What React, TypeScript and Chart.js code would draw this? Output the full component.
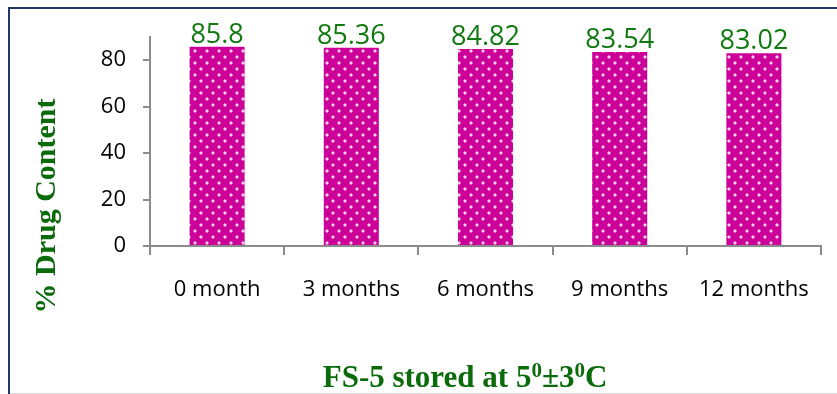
import React, { useEffect, useRef } from "react";
import { Chart, registerables } from "chart.js";

Chart.register(...registerables);

const categories = ["0 month", "3 months", "6 months", "9 months", "12 months"];
const drugContent = [85.8, 85.36, 84.82, 83.54, 83.02];
const yTicks = [0, 20, 40, 60, 80];
const yTitle = "% Drug Content";
const xTitleParts: { text: string; sup?: boolean }[] = [
  { text: "FS-5 stored at 5" },
  { text: "0", sup: true },
  { text: "±3" },
  { text: "0", sup: true },
  { text: "C" },
];

const BAR_COLOR = "#CC0099";
const LABEL_GREEN = "#107A10";
const TITLE_GREEN = "#0B6B0B";
const AXIS_GREY = "#8C8C8C";

function makeDotPattern(ctx: CanvasRenderingContext2D): CanvasPattern | string {
  const tile = document.createElement("canvas");
  tile.width = 12;
  tile.height = 12;
  const t = tile.getContext("2d");
  if (!t) return BAR_COLOR;
  t.fillStyle = BAR_COLOR;
  t.fillRect(0, 0, 12, 12);
  const dot = (cx: number, cy: number) => {
    const g = t.createRadialGradient(cx, cy, 0, cx, cy, 2);
    g.addColorStop(0, "rgba(255,255,255,1)");
    g.addColorStop(0.6, "rgba(255,220,245,0.8)");
    g.addColorStop(1, "rgba(255,255,255,0)");
    t.fillStyle = g;
    t.fillRect(cx - 2, cy - 2, 4, 4);
  };
  dot(3, 3);
  dot(9, 9);
  return ctx.createPattern(tile, "repeat") || BAR_COLOR;
}

const framePlugin = {
  id: "frame",
  beforeDraw(chart: any) {
    const { ctx, width, height } = chart;
    ctx.save();
    ctx.fillStyle = "#ffffff";
    ctx.fillRect(0, 0, width, height);
    ctx.strokeStyle = "#1F3864";
    ctx.lineWidth = 2;
    ctx.beginPath();
    ctx.moveTo(width, 8);
    ctx.lineTo(9, 8);
    ctx.lineTo(9, height);
    ctx.stroke();
    ctx.strokeStyle = "#D9D9D9";
    ctx.lineWidth = 1;
    ctx.beginPath();
    ctx.moveTo(10, height - 0.5);
    ctx.lineTo(width, height - 0.5);
    ctx.stroke();
    ctx.restore();
  },
};

const labelsPlugin = {
  id: "valueLabels",
  afterDatasetsDraw(chart: any) {
    const { ctx } = chart;
    const meta = chart.getDatasetMeta(0);
    ctx.save();
    ctx.fillStyle = LABEL_GREEN;
    ctx.font = "27px 'Open Sans'";
    ctx.textAlign = "center";
    ctx.textBaseline = "alphabetic";
    meta.data.forEach((bar: any, i: number) => {
      ctx.fillText(String(drugContent[i]), bar.x, bar.y - 4);
    });
    ctx.restore();
  },
};

const titlesPlugin = {
  id: "axisTitles",
  afterDraw(chart: any) {
    const { ctx } = chart;
    ctx.save();
    ctx.fillStyle = TITLE_GREEN;
    // vertical axis title
    ctx.font = "bold 30px 'Liberation Serif'";
    ctx.textAlign = "center";
    ctx.textBaseline = "middle";
    ctx.translate(47, 206);
    ctx.rotate(-Math.PI / 2);
    ctx.fillText(yTitle, 0, 0);
    ctx.restore();

    // horizontal axis title with superscripts
    ctx.save();
    ctx.fillStyle = TITLE_GREEN;
    ctx.textAlign = "left";
    ctx.textBaseline = "alphabetic";
    const mainFont = "bold 31px 'Liberation Serif'";
    const supFont = "bold 21px 'Liberation Serif'";
    let total = 0;
    xTitleParts.forEach((p) => {
      ctx.font = p.sup ? supFont : mainFont;
      total += ctx.measureText(p.text).width;
    });
    let x = 465 - total / 2;
    const baseline = 387;
    xTitleParts.forEach((p) => {
      ctx.font = p.sup ? supFont : mainFont;
      ctx.fillText(p.text, x, p.sup ? baseline - 10 : baseline);
      x += ctx.measureText(p.text).width;
    });
    ctx.restore();
  },
};

export default function App() {
  const canvasRef = useRef<HTMLCanvasElement | null>(null);

  useEffect(() => {
    document.body.style.margin = "0";
    const canvas = canvasRef.current;
    if (!canvas) return;
    const ctx = canvas.getContext("2d");
    if (!ctx) return;
    const pattern = makeDotPattern(ctx);

    const chart = new Chart(canvas, {
      type: "bar",
      data: {
        labels: categories,
        datasets: [
          {
            data: drugContent,
            backgroundColor: pattern as any,
            borderWidth: 0,
            categoryPercentage: 1,
            barPercentage: 0.41,
          },
        ],
      },
      options: {
        animation: false,
        responsive: false,
        events: [],
        layout: { padding: { left: 0, right: 16, top: 37, bottom: 0 } },
        plugins: {
          legend: { display: false },
          tooltip: { enabled: false },
          title: { display: false },
        },
        scales: {
          x: {
            afterFit(scale: any) {
              scale.height = 148;
            },
            grid: {
              offset: true,
              drawOnChartArea: false,
              drawTicks: true,
              tickLength: 9,
              color: AXIS_GREY,
              lineWidth: 2,
            },
            border: { color: AXIS_GREY, width: 2 },
            ticks: {
              color: "#000000",
              font: { family: "'Open Sans'", size: 22 },
              padding: 22,
              maxRotation: 0,
            },
          },
          y: {
            min: 0,
            max: 90,
            afterFit(scale: any) {
              scale.width = 150;
            },
            afterBuildTicks(scale: any) {
              scale.ticks = yTicks.map((v) => ({ value: v }));
            },
            grid: {
              drawOnChartArea: false,
              drawTicks: true,
              tickLength: 7,
              color: AXIS_GREY,
              lineWidth: 2,
            },
            border: { color: AXIS_GREY, width: 2 },
            ticks: {
              color: "#000000",
              font: { family: "'Open Sans'", size: 22 },
              padding: 17,
            },
          },
        },
      },
      plugins: [framePlugin, labelsPlugin, titlesPlugin],
    });

    return () => chart.destroy();
  }, []);

  return (
    <div style={{ width: 837, height: 394, position: "relative" }}>
      <canvas ref={canvasRef} width={837} height={394} style={{ display: "block" }} />
    </div>
  );
}
